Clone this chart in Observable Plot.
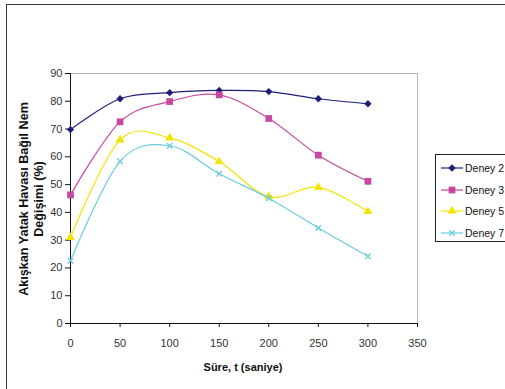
<!DOCTYPE html>
<html>
<head>
<meta charset="utf-8">
<script src="https://cdn.jsdelivr.net/npm/d3@7"></script>
<script src="https://cdn.jsdelivr.net/npm/@observablehq/plot@0.6"></script>
<style>
  body { margin: 0; background: #fff; overflow: hidden; font-family: "Liberation Sans", Arial, sans-serif; }
  #wrap { position: relative; width: 505px; height: 389px; overflow: hidden; background: #fff; }
  #chart { position: absolute; left: 0; top: 0; }
  #frame { position: absolute; left: 6px; top: 4px; width: 620px; height: 520px; border: 1.5px solid #3a3a3a; box-sizing: border-box; pointer-events: none; }
  #ylabel { position: absolute; width: 280px; left: -108px; top: 184px; height: 30px; transform: rotate(-90deg); transform-origin: 50% 50%;
            text-align: center; font-weight: bold; font-size: 12.6px; line-height: 15px; color: #111; white-space: nowrap; }
  #xlabel { position: absolute; left: 143px; width: 200px; top: 361px; text-align: center; font-weight: bold; font-size: 11px; color: #111; }
  #legend { position: absolute; left: 435px; top: 154px; width: 90px; height: 88px; border: 1px solid #222; box-sizing: border-box; background: #fff; }
  .item { position: absolute; left: 4px; height: 16px; display: flex; align-items: center; font-size: 10.5px; color: #111; white-space: nowrap; }
  .item svg { margin-right: 1px; }
</style>
</head>
<body>
<div id="wrap">
  <div id="chart"></div>
  <div id="frame"></div>
  <div id="ylabel">Akışkan Yatak Havası Bağıl Nem<br>Değişimi (%)</div>
  <div id="xlabel">Süre, t (saniye)</div>
  <div id="legend"></div>
</div>
<script>
// Measurement times (s)
const times = [0, 50, 100, 150, 200, 250, 300];

// Relative humidity change of the bed air (%) for each experiment
const deney2 = [69.8, 80.9, 83.1, 83.9, 83.5, 80.9, 79.1];
const deney3 = [46.3, 72.6, 79.9, 82.3, 73.8, 60.6, 51.2];
const deney5 = [31.0, 66.1, 66.8, 58.3, 45.7, 49.0, 40.3];
const deney7 = [22.6, 58.4, 64.0, 53.9, 45.1, 34.4, 24.2];

const seriesNames = ["Deney 2", "Deney 3", "Deney 5", "Deney 7"];
const seriesValues = [deney2, deney3, deney5, deney7];

const xTicks = [0, 50, 100, 150, 200, 250, 300, 350];
const yTicks = [0, 10, 20, 30, 40, 50, 60, 70, 80, 90];

// Drawing styles per series
const styles = [
  {color: "#1c1f78", symbol: "diamond2", r: 3.3, fill: true},
  {color: "#c8479f", symbol: "square", r: 3.8, fill: true},
  {color: "#f2e400", symbol: "triangle", r: 3.3, fill: true},
  {color: "#6cccdf", symbol: "times", r: 2.6, fill: false}
];

const rows = seriesNames.flatMap((name, i) =>
  times.map((t, j) => ({series: name, t, v: seriesValues[i][j]})));

const seriesMarks = seriesNames.flatMap((name, i) => {
  const s = styles[i];
  const data = rows.filter(d => d.series === name);
  return [
    Plot.lineY(data, {x: "t", y: "v", stroke: s.color, strokeWidth: 1.2, curve: "cardinal"}),
    Plot.dot(data, s.fill
      ? {x: "t", y: "v", symbol: s.symbol, r: s.r, fill: s.color, stroke: "none"}
      : {x: "t", y: "v", symbol: s.symbol, r: s.r, stroke: s.color, strokeWidth: 1.3})
  ];
});

const chart = Plot.plot({
  width: 505,
  height: 389,
  marginLeft: 70,
  marginRight: 88,
  marginTop: 73,
  marginBottom: 66,
  style: {fontFamily: "'Liberation Sans', Arial, sans-serif", fontSize: "11px", background: "transparent"},
  x: {domain: [0, 350]},
  y: {domain: [0, 90]},
  marks: [
    Plot.ruleY([90], {stroke: "#b8b8b8", strokeWidth: 1}),
    Plot.ruleX([350], {stroke: "#b8b8b8", strokeWidth: 1}),
    Plot.axisX({ticks: xTicks, tickSize: 4, tickPadding: 12, label: null, color: "#333", fontSize: 11, stroke: "#111"}),
    Plot.axisY({ticks: yTicks, tickSize: 5, tickPadding: 3, label: null, color: "#333", fontSize: 11, stroke: "#111"}),
    Plot.ruleY([0], {stroke: "#111", strokeWidth: 1}),
    Plot.ruleX([0], {stroke: "#111", strokeWidth: 1}),
    ...seriesMarks
  ]
});
document.getElementById("chart").append(chart);

// Legend entries: line sample with marker, then series name
const legend = document.getElementById("legend");
seriesNames.forEach((name, i) => {
  const s = styles[i];
  const item = document.createElement("div");
  item.className = "item";
  item.style.top = (5 + i * 21.7) + "px";
  const svg = d3.create("svg").attr("width", 24).attr("height", 12);
  svg.append("line").attr("x1", 1).attr("x2", 23).attr("y1", 6).attr("y2", 6)
    .attr("stroke", s.color).attr("stroke-width", 1.2);
  const symType = {diamond2: d3.symbolDiamond2, square: d3.symbolSquare, triangle: d3.symbolTriangle, times: d3.symbolTimes}[s.symbol];
  const path = svg.append("path")
    .attr("transform", "translate(12,6)")
    .attr("d", d3.symbol(symType, Math.PI * s.r * s.r)());
  if (s.fill) path.attr("fill", s.color);
  else path.attr("fill", "none").attr("stroke", s.color).attr("stroke-width", 1.3);
  item.append(svg.node());
  const label = document.createElement("span");
  label.textContent = name;
  item.append(label);
  legend.append(item);
});
</script>
</body>
</html>
